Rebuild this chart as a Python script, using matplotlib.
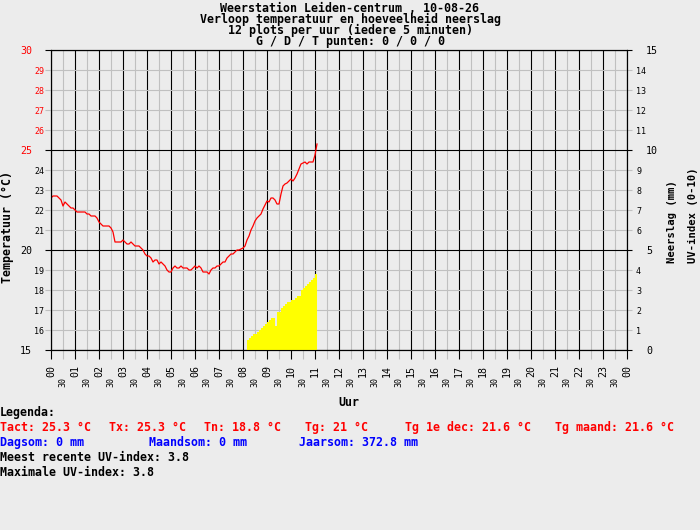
import matplotlib.pyplot as plt

# temperatuur per 5 minuten vanaf 00:00 (laatste meting 11:05)
temp = [22.6, 22.7, 22.7, 22.7, 22.6, 22.5, 22.2, 22.4, 22.3, 22.2, 22.1, 22.1,
        22.0, 21.9, 21.9, 21.9, 21.9, 21.9, 21.8, 21.8, 21.7, 21.7, 21.7, 21.6,
        21.4, 21.3, 21.2, 21.2, 21.2, 21.2, 21.1, 20.9, 20.4, 20.4, 20.4, 20.4,
        20.5, 20.4, 20.3, 20.3, 20.4, 20.3, 20.2, 20.2, 20.2, 20.1, 20.0, 19.8,
        19.7, 19.7, 19.6, 19.4, 19.5, 19.5, 19.3, 19.4, 19.3, 19.2, 19.0, 18.9,
        18.9, 19.1, 19.2, 19.1, 19.1, 19.2, 19.1, 19.1, 19.1, 19.0, 19.0, 19.1,
        19.2, 19.1, 19.2, 19.1, 18.9, 18.9, 18.9, 18.8, 19.0, 19.1, 19.1, 19.2,
        19.2, 19.3, 19.4, 19.4, 19.6, 19.7, 19.8, 19.8, 19.9, 20.0, 20.0, 20.05,
        20.1, 20.2, 20.5, 20.7, 21.0, 21.2, 21.45, 21.6, 21.7, 21.8, 22.05, 22.25,
        22.45, 22.4, 22.6, 22.6, 22.5, 22.3, 22.3, 22.8, 23.2, 23.3, 23.35, 23.45,
        23.55, 23.45, 23.6, 23.8, 24.05, 24.3, 24.35, 24.4, 24.3, 24.4, 24.4, 24.4,
        24.75, 25.3]
temp_uur = [i * 5 / 60 for i in range(len(temp))]

# UV-index per 5 minuten vanaf 08:10
uv = [0.5, 0.5, 0.6, 0.7, 0.8, 0.8, 0.9, 1.0, 1.1, 1.2, 1.3, 1.4,
      1.5, 1.6, 1.6, 1.2, 1.9, 1.9, 2.1, 2.2, 2.3, 2.4, 2.4, 2.5,
      2.5, 2.6, 2.7, 2.7, 3.0, 3.1, 3.2, 3.3, 3.4, 3.5, 3.6, 3.8]
uv_uur = [(98 + i) * 5 / 60 for i in range(len(uv))]

uren = list(range(25))
uur_labels = ["%02d" % (h % 24) for h in uren]
halve_uren = [h + 0.5 for h in range(24)]
halve_labels = ["30"] * 24

temp_major = [15, 20, 25, 30]
temp_minor = [t for t in range(15, 31) if t % 5 != 0]
uv_major = [0, 5, 10, 15]
uv_minor = [u for u in range(0, 16) if u % 5 != 0]

titel = ["Weerstation Leiden-centrum , 10-08-26",
         "Verloop temperatuur en hoeveelheid neerslag",
         "12 plots per uur (iedere 5 minuten)",
         "G / D / T punten: 0 / 0 / 0"]

bg = '#ececec'
grijs = '#c0c0c0'
mono = 'DejaVu Sans Mono'
W, H = 700, 530

plt.rcParams['font.family'] = [mono, 'DejaVu Sans']

fig = plt.figure(figsize=(7, 5.3), dpi=100, facecolor=bg)
ax_uv = fig.add_axes([51 / W, 1 - 350 / H, 576 / W, 300 / H], facecolor=bg)
ax_t = ax_uv.twinx()
ax_uv.yaxis.tick_right()
ax_t.yaxis.tick_left()

# rooster en UV-vlak op de onderste as
ax_uv.set_xlim(0, 24)
ax_uv.set_ylim(0, 15)
ax_uv.set_xticks(uren, uur_labels)
ax_uv.set_xticks(halve_uren, halve_labels, minor=True)
ax_uv.set_yticks(uv_major, [str(u) for u in uv_major])
ax_uv.set_yticks(uv_minor, [str(u) for u in uv_minor], minor=True)
ax_uv.set_axisbelow(True)
ax_uv.grid(which='major', color='black', linewidth=0.8)
ax_uv.grid(which='minor', color=grijs, linewidth=0.8)
ax_uv.fill_between(uv_uur, uv, step='pre', color='#ffff00', linewidth=0,
                   antialiased=False, zorder=3)

ax_uv.tick_params(axis='x', which='major', length=6.5, width=0.8, color='black',
                  pad=4.3, labelsize=7.2, labelrotation=90)
ax_uv.tick_params(axis='x', which='minor', length=6.5, width=0.8, color=grijs,
                  pad=13, labelsize=6, labelrotation=90)
ax_uv.tick_params(axis='y', which='major', length=3.6, width=0.8, color='black',
                  pad=10, labelsize=7.2)
ax_uv.tick_params(axis='y', which='minor', length=3.6, width=0.8, color=grijs,
                  pad=2.9, labelsize=6)

# temperatuur op de tweede as
ax_t.set_ylim(15, 30)
ax_t.set_yticks(temp_major, [str(t) for t in temp_major])
ax_t.set_yticks(temp_minor, [str(t) for t in temp_minor], minor=True)
ax_t.tick_params(axis='y', which='major', length=4.3, width=0.8, color='black',
                 pad=9.4, labelsize=7.2)
ax_t.tick_params(axis='y', which='minor', length=4.3, width=0.8, color=grijs,
                 pad=0.7, labelsize=6)
for lab in ax_t.get_yticklabels() + ax_t.get_yticklabels(minor=True):
    if int(lab.get_text()) >= 25:
        lab.set_color('red')
ax_t.plot(temp_uur, temp, color='red', linewidth=0.9)

for a in (ax_uv, ax_t):
    for s in a.spines.values():
        s.set_linewidth(0.8)
        s.set_color('black')


def px_text(x, y, s, **kw):
    fig.text(x / W, 1 - y / H, s, fontfamily=mono, **kw)


# titel als één tekst met vier regels
px_text(350, 2, "\n".join(titel), ha='center', va='top', multialignment='center',
        linespacing=0.79, fontsize=8.4, fontweight='bold')

px_text(7.5, 227, "Temperatuur (°C)", rotation=90, ha='center', va='center',
        fontsize=8.4, fontweight='bold')
px_text(672, 263, "Neerslag (mm)", rotation=90, ha='center', va='bottom',
        fontsize=7.6, fontweight='bold')
px_text(693, 263, "UV-index (0-10)", rotation=90, ha='center', va='bottom',
        fontsize=7.6, fontweight='bold')
px_text(349, 402, "Uur", ha='center', va='center', fontsize=8.4, fontweight='bold')

legenda = [
    (0, 416, "Legenda:", 'black'),
    (0, 431, "Tact: 25.3 °C", 'red'),
    (109, 431, "Tx: 25.3 °C", 'red'),
    (204, 431, "Tn: 18.8 °C", 'red'),
    (305, 431, "Tg: 21 °C", 'red'),
    (405, 431, "Tg 1e dec: 21.6 °C", 'red'),
    (555, 431, "Tg maand: 21.6 °C", 'red'),
    (0, 446, "Dagsom: 0 mm", 'blue'),
    (149, 446, "Maandsom: 0 mm", 'blue'),
    (299, 446, "Jaarsom: 372.8 mm", 'blue'),
    (0, 461, "Meest recente UV-index: 3.8", 'black'),
    (0, 476, "Maximale UV-index: 3.8", 'black'),
]
for x, y, s, kleur in legenda:
    px_text(x, y, s, ha='left', va='baseline', fontsize=8.4,
            fontweight='bold', color=kleur)

fig.savefig('out.png', dpi=100, facecolor=bg)
